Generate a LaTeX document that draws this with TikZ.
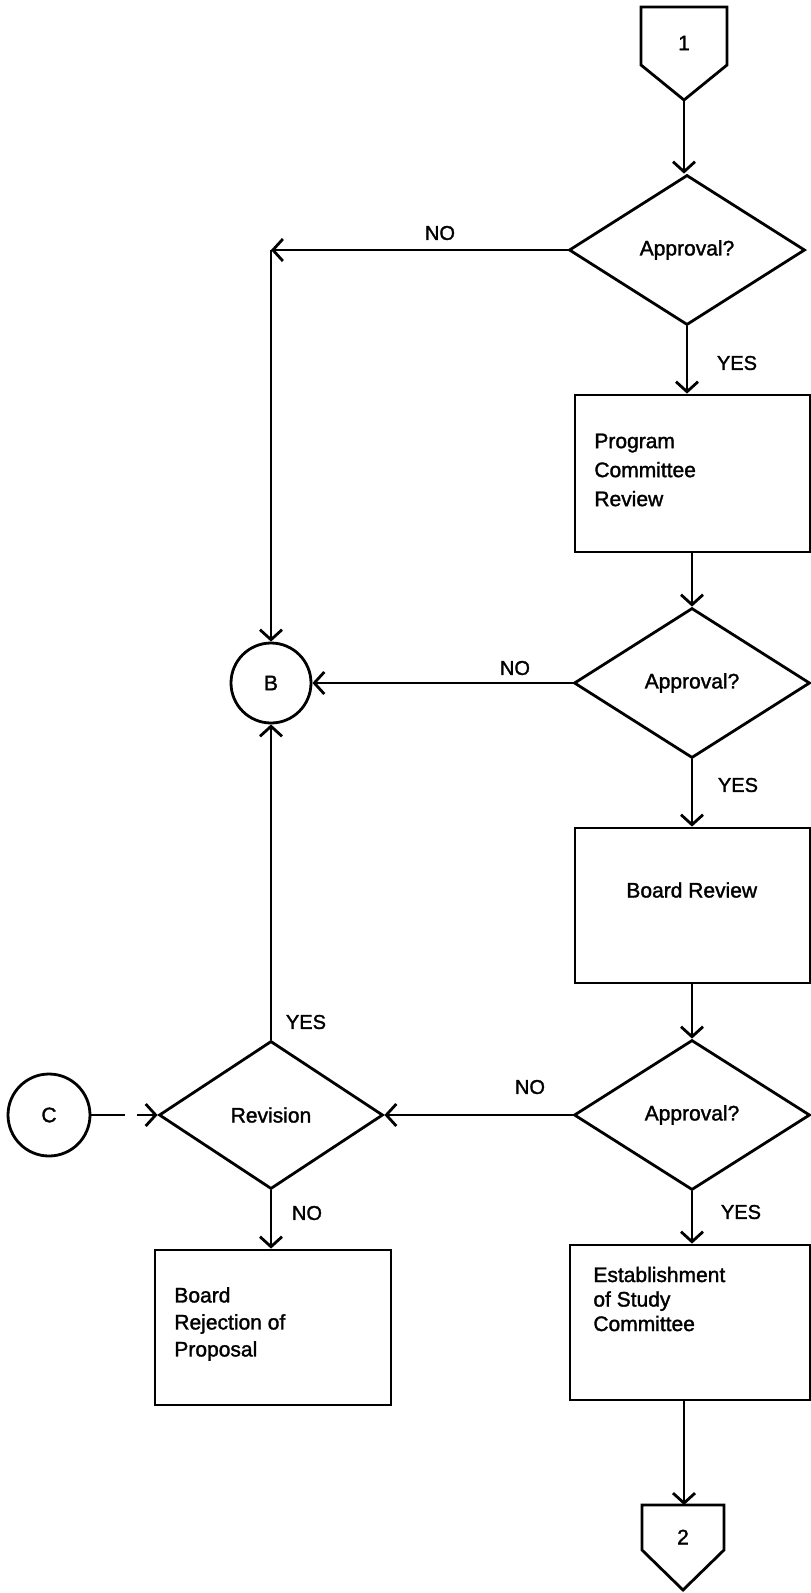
\documentclass[tikz,border=0pt]{standalone}
\usepackage{fontspec}
\setmainfont{Liberation Sans}[FakeBold=1.5]
\usetikzlibrary{arrows.meta,shapes.geometric}
\begin{document}
\begin{tikzpicture}[x=1pt,y=-1pt, line width=2.8pt,
  every node/.style={font=\fontsize{21}{29}\selectfont},
  dec/.style={draw, diamond, minimum width=236pt, minimum height=150pt, inner sep=0pt},
  procbox/.style={draw, rectangle, inner sep=0pt},
  conn/.style={draw, circle, minimum size=80pt, inner sep=0pt},
  flow/.style={-{Straight Barb[length=10pt,width=22pt]}},
  lbl/.style={inner sep=0pt, font=\fontsize{20}{24}\selectfont},
  txt/.style={align=left, anchor=west, inner sep=0pt}]
\useasboundingbox (0,0) rectangle (811,1593);

% off-page connector 1
\draw (641,7) -- (727,7) -- (727,65) -- (684,100) -- (641,65) -- cycle;
\node (c1) at (684,43) {1};
\coordinate (c1tip) at (684,100);

% decisions and process boxes (right column)
\node[dec] (d1) at (687,250) {Approval?};
\node[procbox, minimum width=235pt, minimum height=157pt] (box1) at (692.5,473.5) {};
\node[txt] (t1) at (593,470) {Program\\Committee\\Review};
\node[dec] (d2) at (692,683) {Approval?};
\node[procbox, minimum width=235pt, minimum height=155pt] (box2) at (692.5,905.5) {};
\node[txt] (t2) at (625,890) {Board Review};
\node[dec] (d3) at (692,1115) {Approval?};
\node[procbox, minimum width=240pt, minimum height=155pt] (box3) at (690,1322.5) {};
\node[txt, font=\fontsize{21}{24.5}\selectfont] (t3) at (592,1299) {Establishment\\of Study\\Committee};

% off-page connector 2
\draw (642,1505) -- (724,1505) -- (724,1550) -- (683,1590) -- (642,1550) -- cycle;
\node (c2) at (683,1537) {2};
\coordinate (c2top) at (684,1505);

% left column
\node[conn] (B) at (271,683) {B};
\node[dec, minimum width=224pt, minimum height=148pt] (rev) at (271,1115) {Revision};
\node[conn, minimum size=82pt] (C) at (49,1115) {C};
\node[procbox, minimum width=236pt, minimum height=155pt] (rej) at (273,1327.5) {};
\node[txt, font=\fontsize{21}{27}\selectfont] (t4) at (173,1324) {Board\\Rejection of\\Proposal};

% connectors
\draw[flow] (c1tip) -- (c1tip |- d1.north);
\draw[flow] (d1.south) -- (d1.south |- box1.north);
\draw[flow] (d2.north |- box1.south) -- (d2.north);
\draw[flow] (d2.south) -- (d2.south |- box2.north);
\draw[flow] (d3.north |- box2.south) -- (d3.north);
\draw[flow] (d3.south) -- (d3.south |- box3.north);
\draw[flow] (c2top |- box3.south) -- (c2top);

\coordinate (corner) at (B.north |- d1.west);
\draw[flow] (d1.west) -- (corner);
\draw[flow] (corner) -- (B.north);
\draw[flow] (d2.west) -- (B.east);
\draw[flow] (rev.north) -- (B.south);
\draw[flow] (d3.west) -- (rev.east);
\draw[flow] (rev.south) -- (rev.south |- rej.north);
\coordinate (cgap1) at (125,1115);
\coordinate (cgap2) at (137,1115);
\draw (C.east) -- (cgap1);
\draw[flow] (cgap2) -- (rev.west);

% labels
\node[lbl] (no1) at (440,233) {NO};
\node[lbl] (yes1) at (737,363) {YES};
\node[lbl] (no2) at (515,668) {NO};
\node[lbl] (yes2) at (738,785) {YES};
\node[lbl] (no3) at (530,1087) {NO};
\node[lbl] (yes3) at (741,1212) {YES};
\node[lbl] (yes4) at (306,1022) {YES};
\node[lbl] (no4) at (307,1213) {NO};
\end{tikzpicture}
\end{document}
